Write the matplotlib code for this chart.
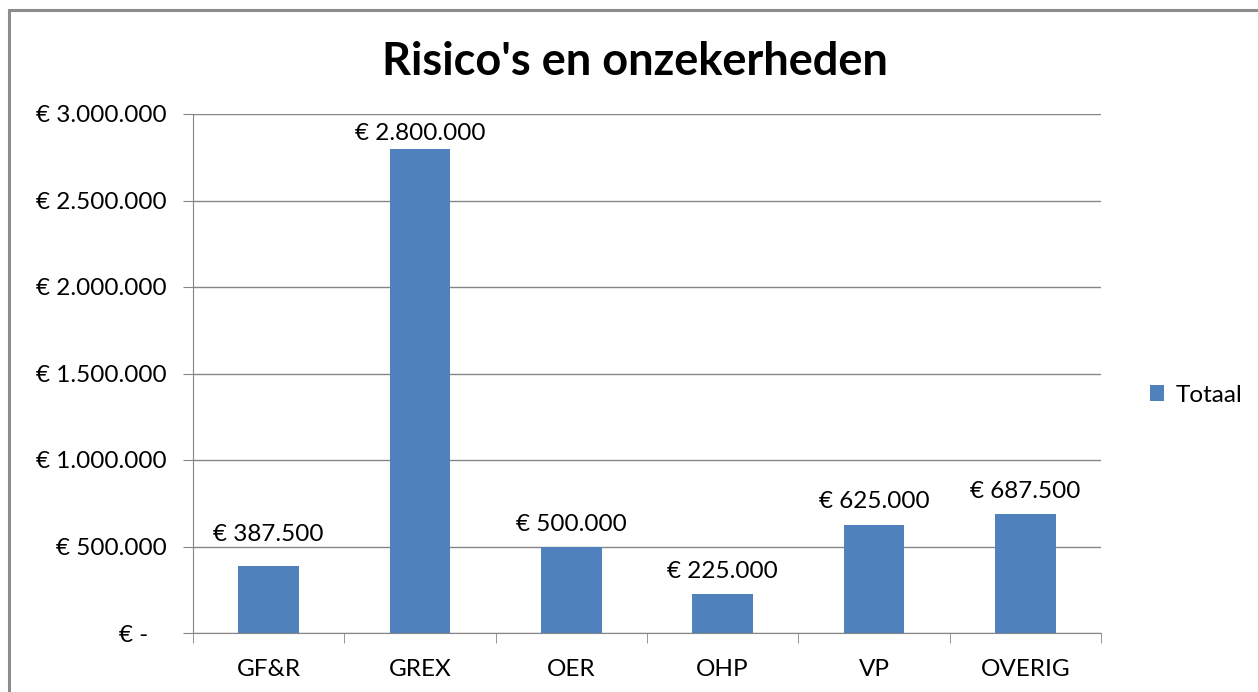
import matplotlib.pyplot as plt
from matplotlib.patches import Rectangle

categories = ['GF&R', 'GREX', 'OER', 'OHP', 'VP', 'OVERIG']
totaal = [387500, 2800000, 500000, 225000, 625000, 687500]
yticks = [0, 500000, 1000000, 1500000, 2000000, 2500000, 3000000]


def euro(v):
    if v == 0:
        return '€ -   '
    return '€ ' + f'{v:,.0f}'.replace(',', '.')


plt.rcParams['font.family'] = ['Lato', 'DejaVu Sans']

fig = plt.figure(figsize=(12.58, 6.92), dpi=100)
ax = fig.add_axes([193 / 1258, 1 - 633 / 692, (1101 - 193) / 1258, (633 - 114) / 692])

# chart area border
fig.patches.append(Rectangle((9 / 1258, -0.05), 1.2, 1 - 10 / 692 + 0.05,
                             transform=fig.transFigure, fill=False,
                             edgecolor='#8c8c8c', linewidth=2.2))

x = range(len(categories))
bars = ax.bar(x, totaal, width=0.4, color='#4F81BD', label='Totaal', zorder=3)
# label gaps (points) as Excel placed them
gaps = [15, 3.5, 8.5, 8.5, 9.5, 8.5]
for b, v, g in zip(bars, totaal, gaps):
    ax.annotate(euro(v), (b.get_x() + b.get_width() / 2, v), xytext=(0, g),
                textcoords='offset points', ha='center', va='bottom', fontsize=17.5)

ax.set_xlim(-0.5, len(categories) - 0.5)
ax.set_ylim(0, 3000000)
ax.set_yticks(yticks)
ax.set_yticklabels([euro(v) for v in yticks], fontsize=17.5)
ax.set_xticks(list(x))
ax.set_xticklabels(categories, fontsize=17.5)
ax.set_xticks([i + 0.5 for i in range(-1, len(categories))], minor=True)
ax.tick_params(axis='x', which='major', length=0, pad=19)
ax.tick_params(axis='x', which='minor', length=7, color='#868686', direction='out')
ax.tick_params(axis='y', length=7, color='#868686', pad=12)
ax.grid(axis='y', color='#868686', linewidth=1, zorder=0)
for s in ['top', 'right']:
    ax.spines[s].set_visible(False)
for s in ['left', 'bottom']:
    ax.spines[s].set_color('#868686')

fig.text(635 / 1258, 1 - 62 / 692, "Risico's en onzekerheden", ha='center', va='center',
         fontsize=32.5, fontweight='bold')
fig.legend(loc='center left', bbox_to_anchor=(1128 / 1258, 1 - 395 / 692),
           frameon=False, fontsize=17.5, handlelength=0.6, handleheight=0.6, handletextpad=0.45)

fig.savefig('out.png', dpi=100)
